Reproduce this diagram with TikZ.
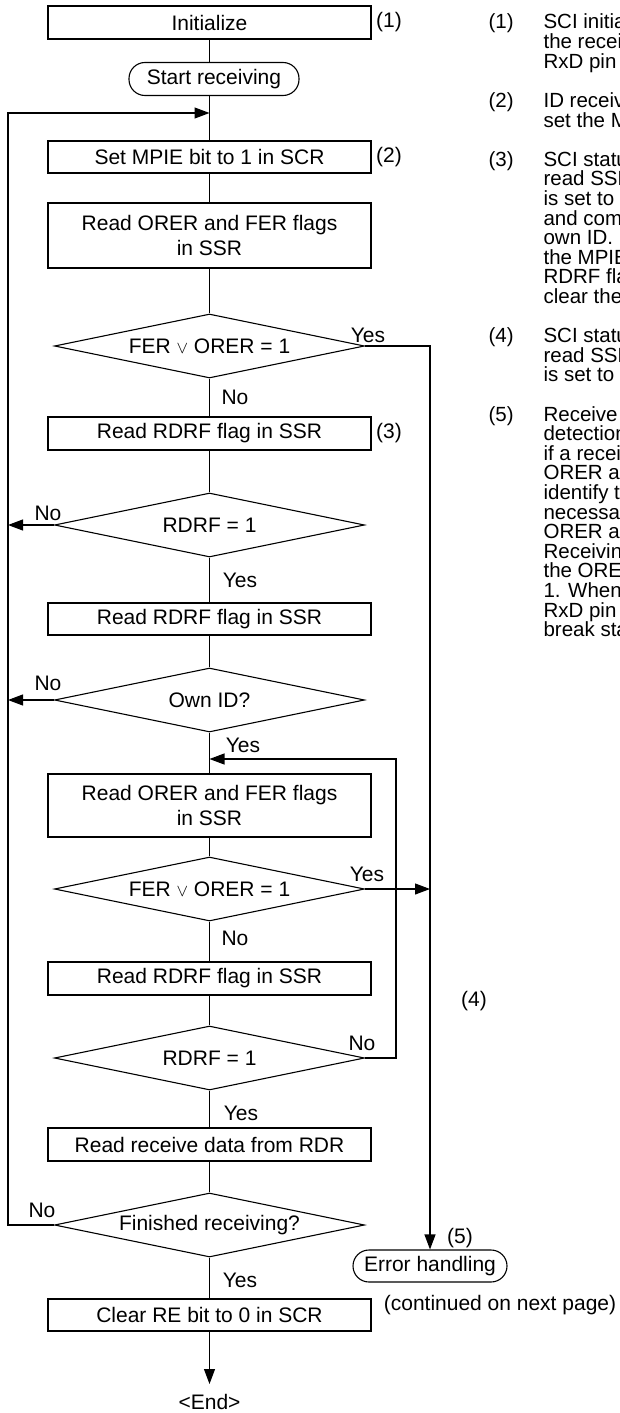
\documentclass[tikz,border=0pt]{standalone}
\usepackage{fontspec}
\setmainfont{Liberation Sans}
\usetikzlibrary{shapes.geometric,arrows.meta}

\newcommand{\orsym}{{\fontsize{17}{17}\selectfont$\vee$}}

\tikzset{
  procbox/.style={draw,minimum width=323pt,inner sep=0pt,align=center},
  decide/.style={draw,diamond,aspect=4.84,minimum width=310pt,minimum height=64pt,inner sep=0pt},
  termbox/.style={draw,rounded corners=16pt,inner sep=0pt,minimum height=33pt},
  lbl/.style={inner sep=0pt},
  notes/.style={anchor=base west,inner sep=0pt,font=\fontsize{20.5}{19.6}\selectfont}
}

\begin{document}
\begin{tikzpicture}[x=1pt,y=-1pt,line width=1.1pt,
    font=\fontsize{21}{25}\selectfont,
    >={Triangle[length=15pt,width=11pt]}]
    \useasboundingbox (0,0) rectangle (620,1413);
    \clip (0,0) rectangle (620,1413);

    % Main column.
    \node[procbox,minimum height=33pt] (init) at (209.5,22.5) {Initialize};
    \node[termbox,minimum width=170pt] (start) at (214,79) {Start receiving};
    \node[procbox,minimum height=32pt] (mpie) at (209.5,157) {Set MPIE bit to 1 in SCR};
    \node[procbox,minimum height=65pt] (orerA) at (209.5,235.5) {Read ORER and FER flags\\in SSR};
    \node[decide] (ferA) at (209.5,346) {FER \orsym{} ORER = 1};
    \node[procbox,minimum height=33pt] (rdrfA) at (209.5,433.5) {Read RDRF flag in SSR};
    \node[decide] (rdrfQA) at (209.5,525) {RDRF = 1};
    \node[procbox,minimum height=32pt] (rdrfB) at (209.5,619) {Read RDRF flag in SSR};
    \node[decide] (ownid) at (209.5,700) {Own ID?};
    \node[procbox,minimum height=63pt] (orerB) at (209.5,805.5) {Read ORER and FER flags\\in SSR};
    \node[decide] (ferB) at (209.5,889) {FER \orsym{} ORER = 1};
    \node[procbox,minimum height=33pt] (rdrfC) at (209.5,978.5) {Read RDRF flag in SSR};
    \node[decide] (rdrfQB) at (209.5,1058) {RDRF = 1};
    \node[procbox,minimum height=33pt] (rdr) at (209.5,1144.5) {Read receive data from RDR};
    \node[decide] (fin) at (209.5,1225) {Finished receiving?};
    \node[procbox,minimum height=32pt] (clear) at (209.5,1315) {Clear RE bit to 0 in SCR};
    \coordinate (stop) at (209.5,1384);
    \node[lbl] (endtxt) at (209.5,1402) {<End>};

    % Error exit.
    \node[termbox,minimum width=154pt,minimum height=32pt] (err) at (430,1266) {Error handling};
    \node[lbl] (cont) at (500,1305) {(continued on next page)};

    % Step numbers beside the chart.
    \node[lbl] (k1) at (389,22.5) {(1)};
    \node[lbl] (k2) at (389,157) {(2)};
    \node[lbl] (k3) at (389,433.5) {(3)};
    \node[lbl] (k4) at (474,1001) {(4)};
    \node[lbl] (k5) at (460,1238) {(5)};

    % Straight flow down the column.
    \foreach \a/\b in {init/start,start/mpie,mpie/orerA,orerA/ferA,ferA/rdrfA,rdrfA/rdrfQA,
        rdrfQA/rdrfB,rdrfB/ownid,ownid/orerB,orerB/ferB,ferB/rdrfC,rdrfC/rdrfQB,
        rdrfQB/rdr,rdr/fin,fin/clear}
      \draw (init.south |- \a.south) -- (init.south |- \b.north);
    \draw[->] (clear.south) -- (stop);

    % Return loop on the left.
    \coordinate (loopL) at (8,113);
    \coordinate (loopIn) at (209.5,113);
    \draw[->] (fin.west) -| (loopL) -- (loopIn);
    \draw[->] (rdrfQA.west) -- (rdrfQA.west -| loopL);
    \draw[->] (ownid.west) -- (ownid.west -| loopL);

    % Error paths and wait loop on the right.
    \coordinate (retR) at (396,759);
    \coordinate (retIn) at (209.5,759);
    \draw[->] (ferA.east) -| (err.north);
    \draw[->] (ferB.east) -- (ferB.east -| err.north);
    \draw[->] (rdrfQB.east) -| (retR) -- (retIn);

    % Branch labels.
    \node[lbl] at (368,335) {Yes};
    \node[lbl] at (235,397) {No};
    \node[lbl] at (48,513) {No};
    \node[lbl] at (240,580) {Yes};
    \node[lbl] at (48,683) {No};
    \node[lbl] at (243,745) {Yes};
    \node[lbl] at (367,874) {Yes};
    \node[lbl] at (235,938) {No};
    \node[lbl] at (362,1043) {No};
    \node[lbl] at (241,1113) {Yes};
    \node[lbl] at (42,1210) {No};
    \node[lbl] at (240,1280) {Yes};

    % Notes column (cut at the page edge).
    \node[notes] (n1) at (488,29) {(1)};
    \foreach \ln [count=\k from 0] in {SCI initialization,the receive,RxD pin}
      \node[notes] at (543,29+\k*19.6) {\ln};
    \node[notes] (n2) at (488,107.4) {(2)};
    \foreach \ln [count=\k from 0] in {ID receive,set the MPIE}
      \node[notes] at (543,107.4+\k*19.6) {\ln};
    \node[notes] (n3) at (488,166.2) {(3)};
    \foreach \ln [count=\k from 0] in {SCI status,read SSR,is set to,and compare,own ID.,the MPIE,RDRF flag,clear the}
      \node[notes] at (543,166.2+\k*19.6) {\ln};
    \node[notes] (n4) at (488,342.6) {(4)};
    \foreach \ln [count=\k from 0] in {SCI status,read SSR,is set to}
      \node[notes] at (543,342.6+\k*19.6) {\ln};
    \node[notes] (n5) at (488,421) {(5)};
    \foreach \ln [count=\k from 0] in {Receive,detection,if a receive,ORER and,identify the,necessary,ORER and,Receiving,the ORER,1.  When,RxD pin,break state}
      \node[notes] at (543,421+\k*19.6) {\ln};
\end{tikzpicture}
\end{document}
